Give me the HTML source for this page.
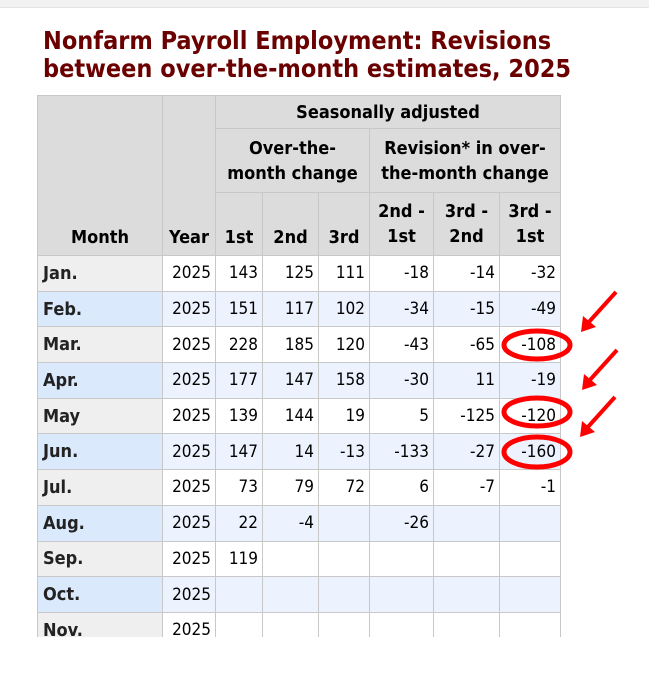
<!DOCTYPE html>
<html><head><meta charset="utf-8"><style>
body{margin:0;width:649px;height:682px;background:#fff;position:relative;overflow:hidden;font-family:"DejaVu Sans Condensed","DejaVu Sans",sans-serif;}
.topbar{position:absolute;left:0;top:0;width:649px;height:7px;background:#f2f2f2;border-bottom:1px solid #e4e4e4}
h1{position:absolute;left:43px;top:27px;margin:0;font-size:25px;line-height:28px;color:#6b0000;font-weight:bold;font-family:"DejaVu Sans Condensed","DejaVu Sans",sans-serif}
.wrap{position:absolute;left:37px;top:95px;width:524px;height:542px;overflow:hidden}
table{border-collapse:collapse;table-layout:fixed;font-size:17px;font-family:"DejaVu Sans Condensed","DejaVu Sans",sans-serif}
td,th{border:1px solid #c8c8c8;padding:0 4px;}
th{background:#dcdcdc;font-weight:bold;color:#000;text-align:center;line-height:25px;font-size:18px}
td{text-align:right;height:34.7px;color:#000}
td.m{text-align:left;font-weight:bold;color:#222;padding-left:5px;font-size:18px}
tr.w td{background:#fff} tr.w td.m{background:#efefef}
tr.b td{background:#ecf3fe} tr.b td.m{background:#dbe9fc}
</style></head><body>
<div class="topbar"></div>
<h1>Nonfarm Payroll Employment: Revisions<br>between over-the-month estimates, 2025</h1>
<div class="wrap">
<table>
<colgroup><col style="width:125px"><col style="width:53px"><col style="width:47px"><col style="width:56px"><col style="width:51px"><col style="width:64px"><col style="width:66px"><col style="width:61px"></colgroup>
<tr style="height:33px"><th rowspan="3" style="vertical-align:bottom;padding-bottom:5px">Month</th><th rowspan="3" style="vertical-align:bottom;padding-bottom:5px">Year</th><th colspan="6">Seasonally adjusted</th></tr>
<tr style="height:64px"><th colspan="3">Over-the-<br>month change</th><th colspan="3">Revision* in over-<br>the-month change</th></tr>
<tr style="height:63px"><th style="vertical-align:bottom;padding-bottom:5px">1st</th><th style="vertical-align:bottom;padding-bottom:5px">2nd</th><th style="vertical-align:bottom;padding-bottom:5px">3rd</th><th>2nd -<br>1st</th><th>3rd -<br>2nd</th><th>3rd -<br>1st</th></tr>
<tr class="w"><td class="m">Jan.</td><td>2025</td><td>143</td><td>125</td><td>111</td><td>-18</td><td>-14</td><td>-32</td></tr>
<tr class="b"><td class="m">Feb.</td><td>2025</td><td>151</td><td>117</td><td>102</td><td>-34</td><td>-15</td><td>-49</td></tr>
<tr class="w"><td class="m">Mar.</td><td>2025</td><td>228</td><td>185</td><td>120</td><td>-43</td><td>-65</td><td>-108</td></tr>
<tr class="b"><td class="m">Apr.</td><td>2025</td><td>177</td><td>147</td><td>158</td><td>-30</td><td>11</td><td>-19</td></tr>
<tr class="w"><td class="m">May</td><td>2025</td><td>139</td><td>144</td><td>19</td><td>5</td><td>-125</td><td>-120</td></tr>
<tr class="b"><td class="m">Jun.</td><td>2025</td><td>147</td><td>14</td><td>-13</td><td>-133</td><td>-27</td><td>-160</td></tr>
<tr class="w"><td class="m">Jul.</td><td>2025</td><td>73</td><td>79</td><td>72</td><td>6</td><td>-7</td><td>-1</td></tr>
<tr class="b"><td class="m">Aug.</td><td>2025</td><td>22</td><td>-4</td><td></td><td>-26</td><td></td><td></td></tr>
<tr class="w"><td class="m">Sep.</td><td>2025</td><td>119</td><td></td><td></td><td></td><td></td><td></td></tr>
<tr class="b"><td class="m">Oct.</td><td>2025</td><td></td><td></td><td></td><td></td><td></td><td></td></tr>
<tr class="w"><td class="m">Nov.</td><td>2025</td><td></td><td></td><td></td><td></td><td></td><td></td></tr>
</table>
</div>
<svg style="position:absolute;left:0;top:0" width="649" height="682">
<g fill="none" stroke="#f00" stroke-width="5">
<ellipse cx="537" cy="345" rx="33" ry="14"/>
<ellipse cx="537" cy="412" rx="33" ry="14"/>
<ellipse cx="537" cy="452" rx="33" ry="15"/>
</g>
<g fill="none" stroke="#f00" stroke-width="4">
<line x1="616" y1="292" x2="588" y2="323"/>
<line x1="617" y1="350" x2="589" y2="381"/>
<line x1="615" y1="397" x2="587" y2="428"/>
</g>
<g fill="#f00">
<polygon points="581,332 583,316 596,327"/>
<polygon points="582,390 584,374 597,385"/>
<polygon points="580,437 582,421 595,432"/>
</g>
</svg>
</body></html>
